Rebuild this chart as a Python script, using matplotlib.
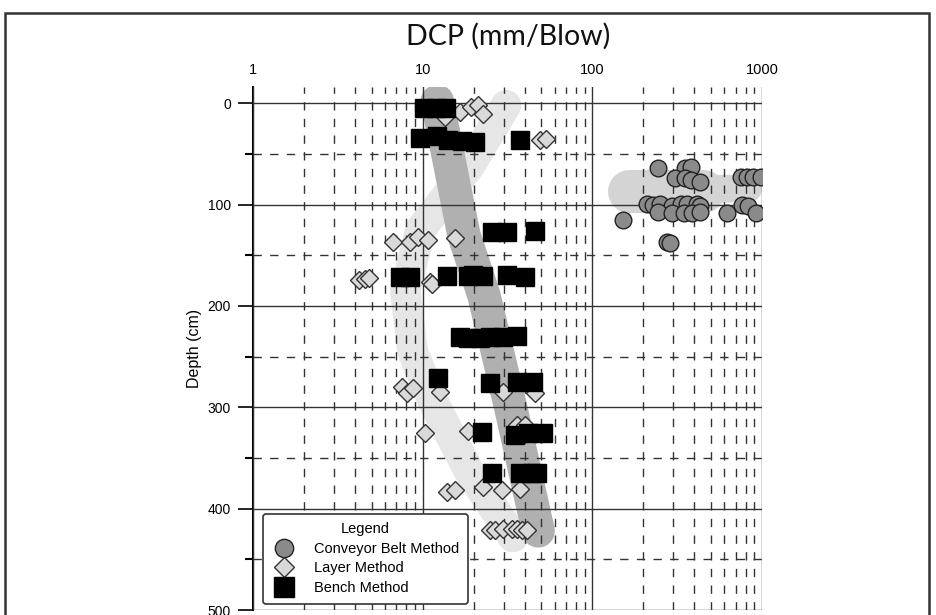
import matplotlib
matplotlib.use("Agg")
import matplotlib.pyplot as plt
from matplotlib.patches import Rectangle

# --- data ---
belt_x = [245, 354, 379, 309, 354, 379, 434, 747, 821, 891, 980,
          211, 229, 252, 296, 331, 363, 416, 434,
          245, 296, 346, 389, 434, 626, 767, 832, 916, 152, 277, 288]
belt_d = [64, 64, 63, 74, 74, 76, 78, 73, 73, 73, 73,
          99, 100, 99, 101, 99, 99, 99, 101,
          107, 108, 108, 108, 107, 108, 100, 101, 108, 115, 137, 138]

layer_x = [13.6, 16.6, 19.3, 21.3, 22.7, 49.3, 53.5,
           6.7, 8.4, 9.4, 10.8, 15.6,
           4.2, 4.6, 4.8, 11.1, 11.4,
           7.6, 8.1, 8.8, 12.7, 29.9, 46.0,
           10.3, 18.6, 36.0, 40.0,
           14.0, 15.6, 22.7, 29.4, 37.6,
           25.0, 26.8, 29.8, 33.6, 36.0, 38.7, 41.4]
layer_d = [14, 9, 4, 2, 11, 36, 35,
           137, 137, 132, 135, 133,
           174, 173, 172, 176, 178,
           280, 286, 281, 285, 285, 286,
           325, 323, 317, 317,
           384, 382, 379, 382, 381,
           421, 421, 420, 420, 420, 421, 421]

bench_x = [10.2, 12.0, 13.8,
           9.7, 12.2, 14.1, 17.1, 20.4, 37.6,
           25.7, 31.5, 46.1,
           7.4, 8.4, 14.0, 18.5, 19.9, 22.7, 31.5, 40.2,
           16.6, 18.5, 21.7, 25.0, 29.8, 36.0,
           12.3, 25.0, 36.1, 44.9,
           22.4, 35.1, 41.9, 51.4,
           25.7, 37.6, 44.2, 47.4]
bench_d = [5, 5, 5,
           34, 32, 36, 37, 38, 36,
           127, 127, 126,
           171, 171, 170, 170, 169, 170, 169, 171,
           231, 232, 232, 231, 231, 230,
           271, 276, 275, 275,
           324, 327, 325, 325,
           365, 365, 365, 365]

# trend bands (hand-drawn highlights in the original)
bench_band_x = [12.2, 17.5, 23, 33, 48]
bench_band_d = [-2, 130, 190, 300, 422]
layer_band_x = [31.0, 19.1, 9.7, 7.9, 8.7, 11.4, 18.6, 34.0]
layer_band_d = [2, 61, 125, 185, 244, 293, 362, 428]
belt_band_x = [165, 450]
belt_band_d = [87, 87]
belt_tail_x = [165, 830]
belt_tail_d = [86, 84]

fig = plt.figure(figsize=(9.36, 6.15), dpi=100)
ax = fig.add_axes([253 / 936, 1 - 610 / 615, 509 / 936, 523 / 615])

ax.set_xscale("log")
ax.set_xlim(1, 1000)
ax.set_ylim(500, -16)

# bands
ax.plot(layer_band_x, layer_band_d, color="#e6e6e6", lw=22,
        solid_capstyle="round", solid_joinstyle="round", zorder=1)
ax.plot(bench_band_x, bench_band_d, color="#b0b0b0", lw=24,
        solid_capstyle="round", solid_joinstyle="round", zorder=1.1)
ax.plot(belt_band_x, belt_band_d, color="#d4d4d4", lw=31,
        solid_capstyle="round", zorder=1)
ax.plot(belt_tail_x, belt_tail_d, color="#d4d4d4", lw=20,
        solid_capstyle="round", zorder=1)

# grid
ax.set_yticks([0, 100, 200, 300, 400, 500])
ax.set_yticks([50, 150, 250, 350, 450], minor=True)
ax.set_xticks([1, 10, 100, 1000])
ax.set_xticklabels(["1", "10", "100", "1000"])
ax.set_axisbelow(False)
ax.grid(which="major", color="#333333", lw=1.0, ls="-")
ax.grid(which="minor", color="#333333", lw=1.0, ls=(0, (6, 6)))

# points
ax.plot(belt_x, belt_d, "o", ms=12, mfc="#8a8a8a", mec="#222222", mew=1,
        label="Conveyor Belt Method", zorder=3)
ax.plot(layer_x, layer_d, "D", ms=9, mfc="#d9d9d9", mec="#333333", mew=1,
        label="Layer Method", zorder=3.1)
ax.plot(bench_x, bench_d, "s", ms=13, mfc="black", mec="black", mew=1,
        label="Bench Method", zorder=3.2)

ax.xaxis.tick_top()
ax.tick_params(axis="x", which="both", length=0, pad=7, labelsize=10.5)
ax.tick_params(axis="y", which="major", length=11, width=1.2, labelsize=10, pad=5)
ax.tick_params(axis="y", which="minor", length=6, width=1.5)
for lab in ax.get_xticklabels():
    lab.set_family(["Liberation Sans Narrow", "Liberation Sans"])
for lab in ax.get_yticklabels():
    lab.set_family("Liberation Sans")

for s in ["top", "right", "bottom"]:
    ax.spines[s].set_visible(False)
ax.spines["left"].set_linewidth(1.5)

ax.set_ylabel("Depth (cm)", fontsize=11.5, family="Liberation Sans", labelpad=4)

leg = ax.legend(loc="lower left", bbox_to_anchor=(0.02, 0.012), borderaxespad=0,
                title="Legend", fancybox=True, framealpha=1, edgecolor="#333333",
                prop={"family": "Liberation Sans", "size": 10.5},
                handletextpad=1.2, borderpad=0.6, labelspacing=0.38,
                handlelength=1.7, markerscale=1.1)
leg.get_title().set_fontfamily("Liberation Sans")
leg.get_title().set_fontsize(10.5)
leg.get_frame().set_linewidth(1.2)
leg.set_zorder(5)

fig.text(508 / 936, 1 - 36 / 615, "DCP (mm/Blow)", ha="center", va="center",
         fontsize=20.5, family=["Lato", "DejaVu Sans"], color="#111111")

fig.patches.append(Rectangle((5 / 936, -0.05), 924 / 936, 1.05 - 13 / 615,
                             transform=fig.transFigure, fill=False,
                             edgecolor="#333333", lw=1.8))

fig.savefig("out.png", dpi=100)
